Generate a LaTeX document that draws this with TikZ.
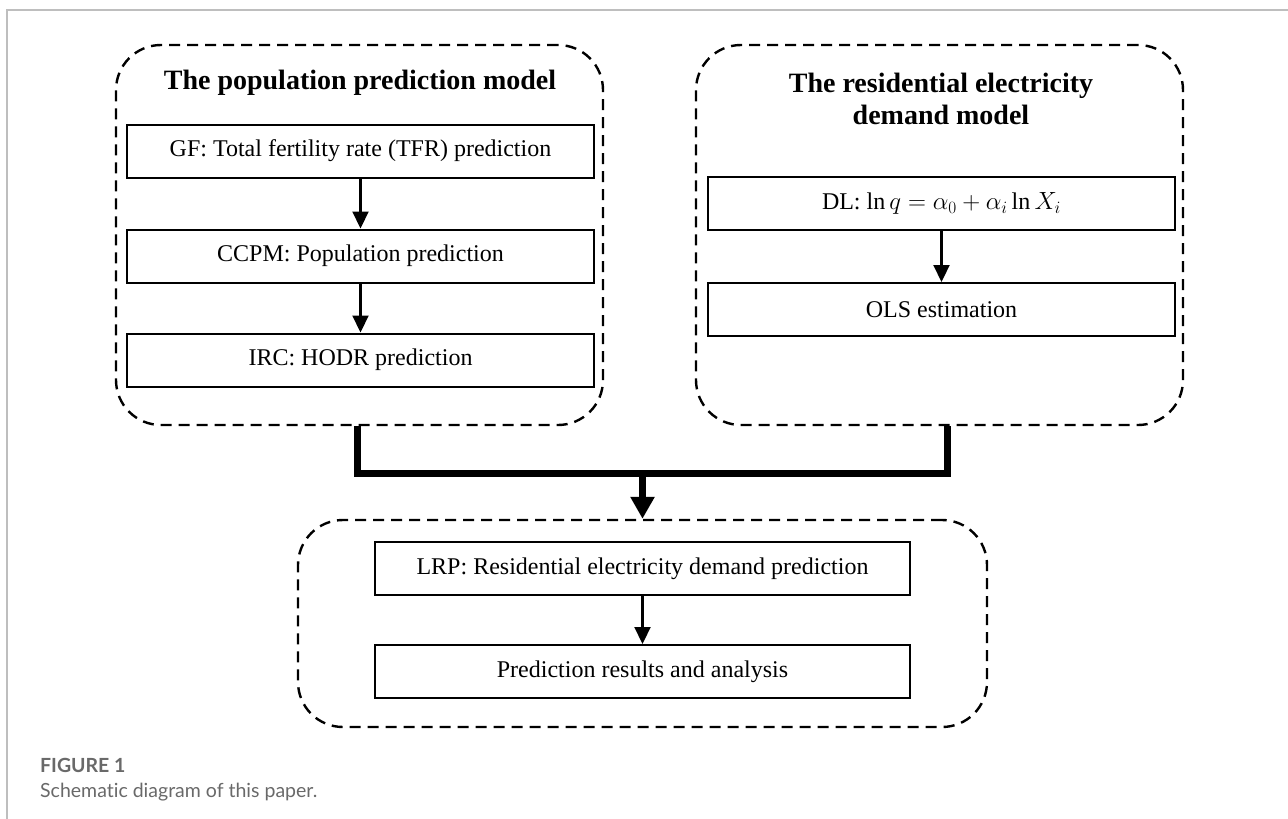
\documentclass[tikz,border=0pt]{standalone}
\usepackage{fontspec}
\setmainfont{Liberation Serif}
\newfontfamily\capfont[Ligatures=NoCommon]{Lato}
\usetikzlibrary{arrows.meta,positioning,calc}
\definecolor{framegray}{RGB}{190,190,190}
\definecolor{capgray}{RGB}{105,105,105}
\tikzset{
  grp/.style={draw,dash pattern=on 11pt off 7pt,line width=2.4pt,rounded corners=45pt,
    minimum width=487pt,minimum height=380pt,inner sep=0pt},
  box/.style={draw,line width=2pt,minimum width=467pt,minimum height=53pt,inner sep=2pt,
    font=\fontsize{24}{28}\selectfont},
  ttl/.style={font=\fontsize{28}{32}\selectfont\bfseries,align=center},
  fl/.style={-{Triangle[length=17pt,width=16pt]},line width=2.2pt},
  bigfl/.style={-{Triangle[length=22pt,width=23pt]},line width=7pt},
  capt/.style={anchor=base west,inner sep=0pt,text=capgray,font=\capfont\fontsize{19.5}{23}\selectfont},
}
\begin{document}
\begin{tikzpicture}[x=1pt,y=-1pt]
  \useasboundingbox (0,0) rectangle (1288,819);
  \draw[framegray,line width=1.5pt] (7,819) -- (7,10) -- (1288,10);
  % population part
  \node[grp] (popgrp) at (359.5,235) {};
  \node[ttl] (popttl) at (360,83) {The population prediction model};
  \node[box] (gf) at (360.5,151) {GF: Total fertility rate (TFR) prediction};
  \node[box,below=50pt of gf] (ccpm) {CCPM: Population prediction};
  \node[box,below=49pt of ccpm] (irc) {IRC: HODR prediction};
  \draw[fl] (gf) -- (ccpm);
  \draw[fl] (ccpm) -- (irc);
  % electricity demand part
  \node[grp] (elecgrp) at (939.5,235) {};
  \node[ttl] (electtl) at (941,99) {The residential electricity\\demand model};
  \node[box] (dl) at (941.5,203.5) {DL: $\ln q=\alpha_0+\alpha_i\ln X_i$};
  \node[box,below=51pt of dl] (ols) {OLS estimation};
  \draw[fl] (dl) -- (ols);
  % prediction part
  \node[grp,minimum width=689pt,minimum height=207pt] (resgrp) at (642.5,623.5) {};
  \node[box,minimum width=535pt] (lrp) at (642.5,568.5) {LRP: Residential electricity demand prediction};
  \node[box,minimum width=535pt,below=48pt of lrp] (pred) {Prediction results and analysis};
  \draw[fl] (lrp) -- (pred);
  % joining connector
  \coordinate (join) at (642.5,473);
  \draw[line width=7pt] ([xshift=-2pt]popgrp.south) |- (join)
    -| ([xshift=8pt]elecgrp.south);
  \draw[bigfl] (join) -- (resgrp.north);
  % caption
  \node[capt,font=\capfont\bfseries\fontsize{19.5}{23}\selectfont] (fig) at (40,772) {FIGURE 1};
  \node[capt] (figtxt) at (40,797) {Schematic diagram of this paper.};
\end{tikzpicture}
\end{document}
